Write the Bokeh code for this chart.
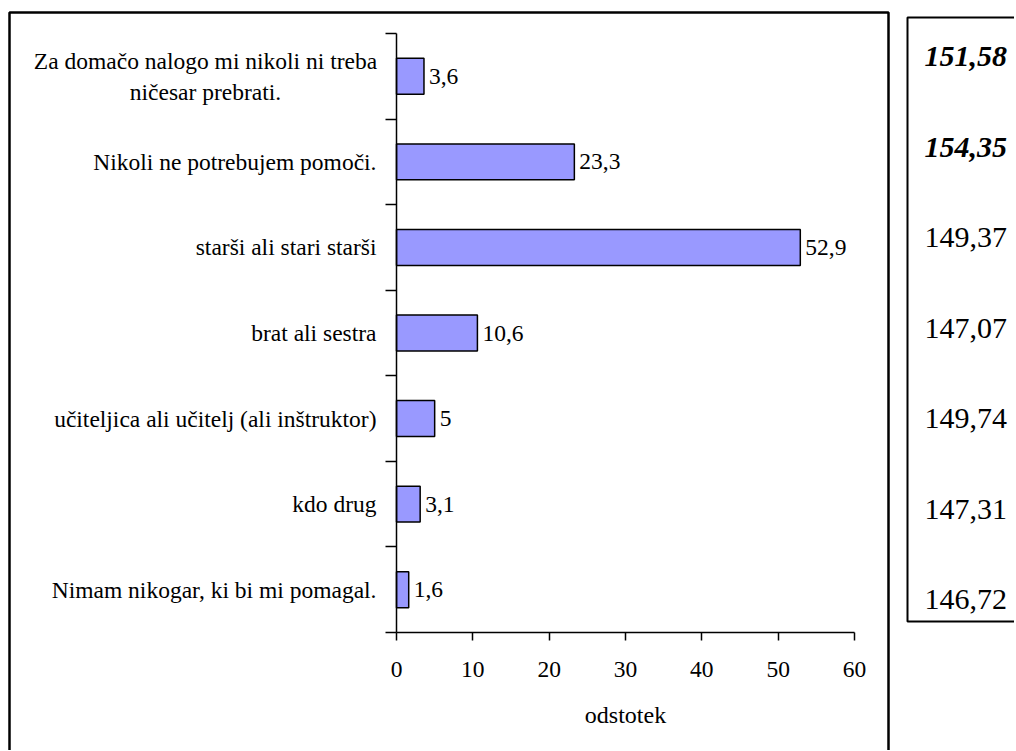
from bokeh.plotting import figure
from bokeh.models import ColumnDataSource, FixedTicker, Range1d
from bokeh.embed import file_html
from bokeh.resources import INLINE
from bokeh.core.properties import value

# ---- data ----
categories = [
    "Za domačo nalogo mi nikoli ni treba\nničesar prebrati.",
    "Nikoli ne potrebujem pomoči.",
    "starši ali stari starši",
    "brat ali sestra",
    "učiteljica ali učitelj (ali inštruktor)",
    "kdo drug",
    "Nimam nikogar, ki bi mi pomagal.",
]
percent = [3.6, 23.3, 52.9, 10.6, 5, 3.1, 1.6]
x_ticks = [0, 10, 20, 30, 40, 50, 60]
x_title = "odstotek"
side_values = ["151,58", "154,35", "149,37", "147,07", "149,74", "147,31", "146,72"]
side_emphasis = [True, True, False, False, False, False, False]

FONT = "Liberation Serif"
FS = "23.5px"
W, H = 1014, 750
# pixel layout of the plotting area inside the canvas
AX_L, AX_R, AX_T, AX_B = 396, 854, 33, 632
X0, X1 = 0, 60
n = len(categories)

kx = (AX_R - AX_L) / (X1 - X0)
ky = (AX_B - AX_T) / n
def px(sx):
    return X0 + (sx - AX_L) / kx
def py(sy):
    return (AX_B - sy) / ky

centers = [n - i - 0.5 for i in range(n)]
labels = [f"{v:g}".replace(".", ",") for v in percent]
src = ColumnDataSource(dict(y=centers, x=percent, lbl=labels))

p = figure(width=W, height=H, x_range=Range1d(px(0), px(W)), y_range=Range1d(py(H), py(0)),
           output_backend="svg", toolbar_location=None,
           min_border_left=0, min_border_right=0, min_border_top=0, min_border_bottom=0)
p.outline_line_color = None
p.xgrid.visible = False
p.ygrid.visible = False

# frames around the chart and the side panel
p.quad(left=[px(9)], right=[px(888)], top=[py(12)], bottom=[py(H + 20)],
       fill_color=None, line_color="black", line_width=2.5)
p.quad(left=[px(907)], right=[px(W + 20)], top=[py(17)], bottom=[py(621)],
       fill_color=None, line_color="black", line_width=2)

p.hbar(y="y", right="x", left=0, height=0.42, source=src,
       fill_color="#9999ff", line_color="black", line_width=1.5)
p.text(x="x", y="y", text="lbl", source=src, x_offset=5,
       text_align="left", text_baseline="middle",
       text_font=value(FONT), text_font_size=FS, text_color="black")

ya = p.yaxis[0]
ya.fixed_location = X0
ya.bounds = (0, n)
ya.ticker = FixedTicker(ticks=centers, minor_ticks=list(range(n + 1)))
ya.major_label_overrides = {c: ("" if "\n" in lab else lab) for c, lab in zip(centers, categories)}
ya.major_tick_in = 0
ya.major_tick_out = 0
ya.minor_tick_in = 0
ya.minor_tick_out = 11
ya.minor_tick_line_color = "black"
ya.minor_tick_line_width = 1.5
ya.axis_line_color = "black"
ya.axis_line_width = 1.5
ya.major_label_standoff = 9
ya.major_label_text_font = FONT
ya.major_label_text_font_size = FS
ya.major_label_text_color = "black"

# the two-line category label, centred line by line like the original
ml = [(c, lab) for c, lab in zip(centers, categories) if "\n" in lab]
p.text(x=[px(205)] * len(ml), y=[c for c, _ in ml], text=[lab for _, lab in ml],
       text_align="center", text_baseline="middle", text_line_height=1.2,
       text_font=value(FONT), text_font_size=FS, text_color="black")

xa = p.xaxis[0]
xa.fixed_location = 0
xa.bounds = (X0, X1)
xa.ticker = FixedTicker(ticks=x_ticks)
xa.major_tick_in = 0
xa.major_tick_out = 8
xa.minor_tick_line_color = None
xa.major_tick_line_color = "black"
xa.major_tick_line_width = 1.5
xa.axis_line_color = "black"
xa.axis_line_width = 1.5
xa.major_label_standoff = 21
xa.major_label_text_font = FONT
xa.major_label_text_font_size = FS
xa.major_label_text_color = "black"
xa.axis_label = x_title
xa.axis_label_text_font = FONT
xa.axis_label_text_font_style = "normal"
xa.axis_label_text_font_size = "24px"
xa.axis_label_text_color = "black"
xa.axis_label_standoff = 22

# ---- side panel values ----
m = len(side_values)
side_src = ColumnDataSource(dict(
    x=[px(924)] * m,
    y=[py(56 + 90.5 * i) for i in range(m)],
    t=side_values,
    s=["bold italic" if e else "normal" for e in side_emphasis],
))
p.text(x="x", y="y", text="t", source=side_src, text_font_style="s",
       text_align="left", text_baseline="middle",
       text_font=value(FONT), text_font_size="30px", text_color="black")

open("out.html", "w").write(file_html(p, INLINE))
